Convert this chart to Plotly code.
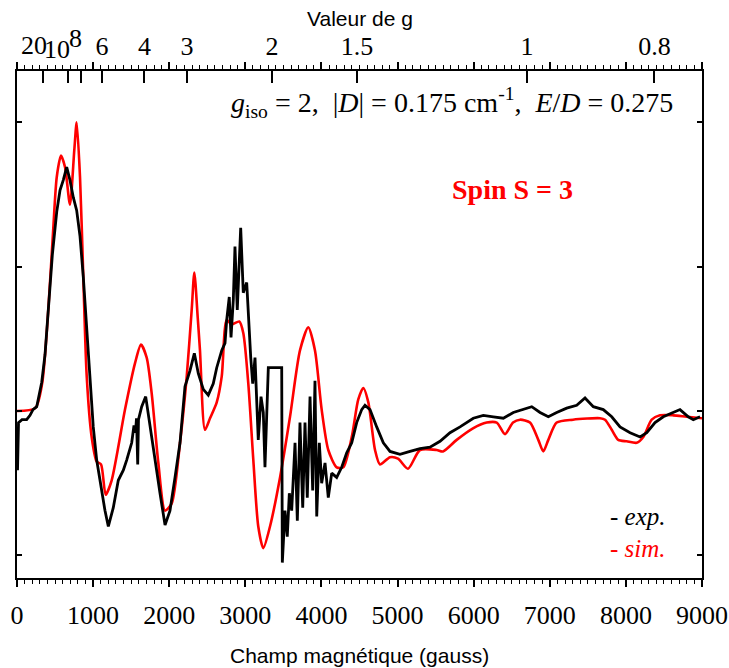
import plotly.graph_objects as go

# ---- data ----
field_exp = [7, 20, 66, 127, 171, 210, 259, 302, 325, 368, 411, 464, 522, 565, 608, 653, 696, 740, 784, 828,
             871, 916, 959, 1002, 1047, 1104, 1156, 1200, 1265, 1331, 1397, 1441, 1507, 1537, 1557, 1570, 1586,
             1596, 1638, 1691, 1747, 1813, 1879, 1945, 2010, 2076, 2142, 2207, 2273, 2330, 2382, 2448, 2513,
             2579, 2624, 2690, 2733, 2755, 2789, 2812, 2842, 2864, 2894, 2939, 2973, 3018, 3039, 3071, 3097,
             3127, 3170, 3206, 3236, 3258, 3302, 3478, 3486, 3521, 3551, 3578, 3609, 3653, 3683, 3718, 3754,
             3784, 3814, 3850, 3885, 3915, 3938, 3972, 4003, 4047, 4090, 4135, 4200, 4266, 4332, 4398, 4463,
             4529, 4572, 4638, 4726, 4813, 4901, 5032, 5164, 5295, 5426, 5558, 5689, 5821, 5995, 6127, 6258,
             6390, 6521, 6631, 6763, 6872, 6981, 7091, 7222, 7354, 7463, 7572, 7703, 7814, 7923, 8055, 8187,
             8274, 8383, 8491, 8623, 8711, 8820, 8886, 8974]
signal_exp = [-0.41, -0.08, -0.06, -0.06, -0.03, 0.01, 0.03, 0.13, 0.20, 0.39, 0.67, 1.08, 1.38, 1.53, 1.60,
              1.69, 1.60, 1.48, 1.39, 1.21, 0.93, 0.58, 0.17, -0.11, -0.34, -0.53, -0.69, -0.80, -0.67, -0.48,
              -0.41, -0.34, -0.22, -0.10, -0.15, -0.05, -0.37, -0.06, 0.03, 0.10, -0.11, -0.34, -0.57, -0.79,
              -0.69, -0.46, -0.22, 0.17, 0.28, 0.40, 0.26, 0.15, 0.11, 0.19, 0.30, 0.42, 0.47, 0.63, 0.79, 0.51,
              0.77, 1.14, 0.70, 1.27, 0.82, 0.89, 0.65, 0.37, 0.19, 0.37, -0.20, 0.10, -0.01, -0.39, 0.30, 0.30,
              -1.05, -0.69, -0.87, -0.57, -0.69, -0.22, -0.76, -0.08, -0.67, -0.08, -0.60, 0.10, -0.55, 0.21,
              -0.73, -0.22, -0.50, -0.36, -0.60, -0.43, -0.46, -0.39, -0.29, -0.22, -0.08, 0.01, 0.04, 0.01,
              -0.11, -0.22, -0.28, -0.30, -0.28, -0.26, -0.25, -0.21, -0.15, -0.11, -0.05, -0.03, -0.04, -0.05,
              -0.01, 0.01, 0.03, -0.01, -0.04, -0.01, 0.02, 0.04, 0.09, 0.03, 0.01, -0.04, -0.11, -0.15, -0.18,
              -0.15, -0.08, -0.04, -0.01, 0.01, -0.04, -0.06, -0.04]

field_sim = [0, 240, 330, 411, 477, 522, 578, 631, 696, 753, 784, 828, 871, 916, 981, 1047, 1104, 1165, 1244,
             1419, 1550, 1629, 1704, 1770, 1857, 1945, 2033, 2142, 2230, 2295, 2330, 2374, 2404, 2470, 2536,
             2624, 2690, 2755, 2821, 2921, 2973, 3039, 3105, 3170, 3236, 3324, 3456, 3587, 3718, 3827, 3915,
             4003, 4090, 4200, 4287, 4398, 4484, 4550, 4616, 4704, 4769, 4901, 5006, 5137, 5295, 5514, 5597,
             5777, 5991, 6171, 6303, 6412, 6517, 6609, 6740, 6849, 6915, 6981, 7091, 7305, 7660, 7726, 7814,
             7900, 8011, 8142, 8229, 8339, 8448, 8623, 8799, 9000]
signal_sim = [0.0, 0.02, 0.19, 0.70, 1.27, 1.62, 1.77, 1.69, 1.43, 1.81, 2.00, 1.62, 0.93, 0.24, -0.18, -0.35,
              -0.37, -0.58, -0.48, 0.01, 0.33, 0.46, 0.37, 0.12, -0.36, -0.69, -0.64, -0.22, 0.24, 0.70, 0.96,
              0.65, 0.42, -0.13, -0.05, 0.06, 0.24, 0.63, 0.60, 0.62, 0.54, 0.19, -0.34, -0.80, -0.95, -0.80,
              -0.46, -0.04, 0.42, 0.58, 0.42, 0.01, -0.27, -0.39, -0.39, -0.18, 0.08, 0.16, 0.06, -0.27, -0.37,
              -0.32, -0.33, -0.40, -0.27, -0.27, -0.28, -0.20, -0.12, -0.08, -0.08, -0.16, -0.08, -0.06, -0.08,
              -0.20, -0.28, -0.20, -0.08, -0.06, -0.05, -0.06, -0.13, -0.20, -0.21, -0.22, -0.18, -0.06, -0.03,
              -0.03, -0.04, -0.05]

g_values = [20, 10, 8, 6, 4, 3, 2, 1.5, 1, 0.8]
g_labels = ["20", "10", "8", "6", "4", "3", "2", "1.5", "1", "0.8"]
g_times_B = 6700  # h*nu/muB in gauss
x_ticks = [0, 1000, 2000, 3000, 4000, 5000, 6000, 7000, 8000, 9000]

SERIF = "Liberation Serif"
SANS = "Liberation Sans"

g_pos = [g_times_B / g for g in g_values]
crowded = {"20": (-9, 1.051), "10": (-11, 1.043), "8": (-5, 1.065)}
main_pos = [p for p, lab in zip(g_pos, g_labels) if lab not in crowded]
main_lab = [lab for lab in g_labels if lab not in crowded]
crowd_pos = [p for p, lab in zip(g_pos, g_labels) if lab in crowded]

fig = go.Figure()
fig.add_trace(go.Scatter(x=field_sim, y=signal_sim, mode="lines",
                         line=dict(color="#ff0000", width=2.6, shape="spline", smoothing=0.7),
                         showlegend=False))
fig.add_trace(go.Scatter(x=field_exp, y=signal_exp, mode="lines",
                         line=dict(color="black", width=2.8), showlegend=False))
# invisible traces to activate the top axes
fig.add_trace(go.Scatter(x=[g_pos[-1]], y=[0], xaxis="x2", mode="markers",
                         marker=dict(opacity=0), showlegend=False, hoverinfo="skip"))
fig.add_trace(go.Scatter(x=[g_pos[-1]], y=[0], xaxis="x3", mode="markers",
                         marker=dict(opacity=0), showlegend=False, hoverinfo="skip"))

top_common = dict(range=[0, 9000], overlaying="x", side="top", tickmode="array",
                  ticks="inside", ticklen=12, tickwidth=1.5, tickcolor="black",
                  showline=False, showgrid=False, zeroline=False, automargin=False)

fig.update_layout(
    width=729, height=668,
    margin=dict(l=17, r=27, t=71, b=90, autoexpand=False),
    plot_bgcolor="white", paper_bgcolor="white",
    xaxis=dict(range=[0, 9000], tickvals=x_ticks, ticktext=[str(v) for v in x_ticks],
               ticks="outside", ticklen=7, tickwidth=1.5, tickcolor="black",
               minor=dict(dtick=100, ticks="outside", ticklen=4, tickwidth=1.2, tickcolor="black"),
               showline=True, linewidth=2, linecolor="black", mirror="ticks",
               showgrid=False, zeroline=False, ticklabelstandoff=6, automargin=False,
               tickfont=dict(family=SERIF, size=26, color="black")),
    xaxis2=dict(tickvals=main_pos, ticktext=main_lab, ticklabelstandoff=10,
                tickfont=dict(family=SERIF, size=26, color="black"), **top_common),
    xaxis3=dict(tickvals=crowd_pos, showticklabels=False, **top_common),
    yaxis=dict(range=[-1.157, 2.356], tickvals=[-1, 0, 1, 2], showticklabels=False,
               ticks="inside", ticklen=5, tickwidth=1.5, tickcolor="black",
               showline=True, linewidth=2, linecolor="black", mirror="ticks",
               showgrid=False, zeroline=False, automargin=False),
)

annotations = [
    dict(text="<i>g</i><sub>iso</sub> = 2,\u00a0\u00a0|<i>D</i>| = 0.175 cm<sup>-1</sup>,\u00a0\u00a0<i>E</i>/<i>D</i> = 0.275",
         xref="paper", yref="paper", x=0.9606, y=0.937, xanchor="right", yanchor="middle",
         showarrow=False, font=dict(family=SERIF, size=28, color="black")),
    dict(text="<b>Spin S = 3</b>", xref="paper", yref="paper", x=0.724, y=0.767,
         xanchor="center", yanchor="middle", showarrow=False,
         font=dict(family=SERIF, size=28, color="#ff0000")),
    dict(text="- <i>exp.</i>", xref="paper", yref="paper", x=0.950, y=0.122,
         xanchor="right", yanchor="middle", showarrow=False,
         font=dict(family=SERIF, size=25, color="black")),
    dict(text="- <i>sim.</i>", xref="paper", yref="paper", x=0.950, y=0.059,
         xanchor="right", yanchor="middle", showarrow=False,
         font=dict(family=SERIF, size=25, color="#ff0000")),
    dict(text="Valeur de g", xref="paper", yref="paper", x=0.5, y=1.1045,
         xanchor="center", yanchor="middle", showarrow=False,
         font=dict(family=SANS, size=21, color="black")),
    dict(text="Champ magnétique (gauss)", xref="paper", yref="paper", x=0.5, y=-0.152,
         xanchor="center", yanchor="middle", showarrow=False,
         font=dict(family=SANS, size=21, color="black")),
]
for g, lab in zip(g_values, g_labels):
    if lab in crowded:
        dx, yy = crowded[lab]
        annotations.append(dict(text=lab, xref="x", yref="paper", x=g_times_B / g, y=yy,
                                xshift=dx, xanchor="center", yanchor="middle", showarrow=False,
                                font=dict(family=SERIF, size=26, color="black")))
fig.update_layout(annotations=annotations)

fig.write_html("out.html", config={"displayModeBar": False},
               post_script="document.body.style.margin='0';document.body.style.padding='0';")
